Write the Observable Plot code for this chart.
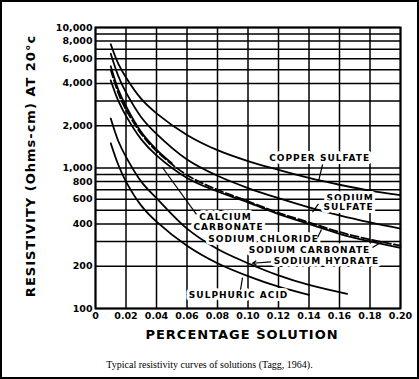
<!DOCTYPE html>
<html><head><meta charset="utf-8">
<script src="https://cdn.jsdelivr.net/npm/d3@7"></script>
<script src="https://cdn.jsdelivr.net/npm/@observablehq/plot@0.6"></script>
<style>
body{margin:0;background:#fff;}
#wrap{position:relative;width:419px;height:379px;overflow:hidden;background:#fff;}
#border{position:absolute;left:0;top:0;width:419px;height:379px;box-sizing:border-box;border:2px solid #000;pointer-events:none;}
#caption{position:absolute;left:0;top:359px;width:419px;text-align:center;font-family:"Liberation Serif",serif;font-size:10px;color:#000;}
.lbl text{letter-spacing:1px;}
.ttl text{letter-spacing:1px;}
</style></head><body>
<div id="wrap"><div id="chart"></div><div id="caption">Typical resistivity curves of solutions (Tagg, 1964).</div><div id="border"></div></div>
<script>
// ---- data (percentage solution -> resistivity, ohm-cm) ----
const pct = [0.01, 0.015, 0.02, 0.03, 0.04, 0.06, 0.08, 0.10, 0.12, 0.14, 0.16, 0.18, 0.20];
const copperSulfate   = [7600, 5500, 4400, 3100, 2450, 1720, 1340, 1120, 970, 850, 760, 690, 640];
const sodiumSulfate   = [6500, 4500, 3450, 2300, 1750, 1150, 880, 720, 610, 525, 460, 410, 370];
const sodiumChloride  = [5000, 3400, 2600, 1750, 1320, 890, 700, 580, 480, 410, 350, 310, 280];
const sodiumCarbonate = [4200, 3000, 2350, 1600, 1230, 850, 680, 570, 470, 400, 340, 300, 270];
const calciumPct = [0.01, 0.015, 0.02, 0.03, 0.04, 0.05];
const calciumCarbonate = [5300, 3600, 2750, 1800, 1350, 1080];
const hydratePct = [0.01, 0.015, 0.02, 0.03, 0.04, 0.06, 0.08, 0.10, 0.12, 0.14, 0.165];
const sodiumHydrate = [2250, 1550, 1200, 800, 610, 370, 265, 210, 172, 147, 127];
const acidPct = [0.01, 0.015, 0.02, 0.03, 0.04, 0.06, 0.08, 0.10, 0.12, 0.14];
const sulphuricAcid = [1500, 1050, 800, 540, 415, 280, 210, 170, 143, 125];

const xTicks = [0, 0.02, 0.04, 0.06, 0.08, 0.10, 0.12, 0.14, 0.16, 0.18, 0.20];
const yTickLabels = [100, 200, 400, 600, 800, 1000, 2000, 4000, 6000, 8000, 10000];
const yGrid = [100, 200, 300, 400, 500, 600, 700, 800, 900, 1000, 2000, 3000, 4000, 5000, 6000, 7000, 8000, 9000, 10000];

// curve labels (text, x, y) in data units
const labelText = ["COPPER SULFATE", "SODIUM", "SULFATE", "CALCIUM", "CARBONATE", "SODIUM CHLORIDE", "SODIUM CARBONATE", "SODIUM HYDRATE", "SULPHURIC ACID"];
const labelX = [0.147, 0.167, 0.166, 0.0852, 0.0872, 0.1102, 0.1403, 0.1515, 0.0938];
const labelY = [1170, 607, 524, 445, 378, 310, 259, 216, 124];
// leader lines
const leadX1 = [0.1489, 0.1462, 0.0662, 0.1456, 0.1816, 0.0951];
const leadY1 = [1059, 556, 467, 320, 272, 136];
const leadX2 = [0.1462, 0.1423, 0.0439, 0.1482, 0.1882, 0.0964];
const leadY2 = [801, 484, 1008, 365, 300, 166];
const arrowX1 = [0.1148], arrowY1 = [215], arrowX2 = [0.1030], arrowY2 = [210];

// ---- build tables ----
function series(name, xs, ys){ return xs.map((x,i)=>({name, x, y: ys[i]})); }
const solid = [
  ...series("Copper sulfate", pct, copperSulfate),
  ...series("Sodium sulfate", pct, sodiumSulfate),
  ...series("Sodium carbonate", pct, sodiumCarbonate),
  ...series("Calcium carbonate", calciumPct, calciumCarbonate),
  ...series("Sodium hydrate", hydratePct, sodiumHydrate),
  ...series("Sulphuric acid", acidPct, sulphuricAcid)
];
const dashed = series("Sodium chloride", pct, sodiumChloride);
const labels = labelText.map((t,i)=>({t, x: labelX[i], y: labelY[i]}));
const leads = leadX1.map((d,i)=>({x1: leadX1[i], y1: leadY1[i], x2: leadX2[i], y2: leadY2[i]}));
const arrows = arrowX1.map((d,i)=>({x1: arrowX1[i], y1: arrowY1[i], x2: arrowX2[i], y2: arrowY2[i]}));
const fmtY = d3.format(",");

const chart = Plot.plot({
  width: 419, height: 357,
  marginLeft: 95, marginRight: 19, marginTop: 27, marginBottom: 49,
  style: {fontFamily: "DejaVu Sans", fontWeight: "bold", color: "#000", background: "transparent"},
  x: {domain: [0, 0.20], axis: null},
  y: {type: "log", domain: [100, 10000], axis: null},
  marks: [
    Plot.ruleX(xTicks, {stroke: "#000", strokeWidth: 1.5}),
    Plot.ruleY(yGrid, {stroke: "#000", strokeWidth: 1.5}),
    Plot.frame({stroke: "#000", strokeWidth: 2}),
    Plot.text(yTickLabels, {y: d => d, text: d => fmtY(d), frameAnchor: "left", textAnchor: "end", dx: -3, fontSize: 9.5, fontWeight: "bold", fill: "#000"}),
    Plot.text(xTicks, {x: d => d, text: d => d === 0 ? "0" : d.toFixed(2), frameAnchor: "bottom", lineAnchor: "top", dy: 4, fontSize: 9.5, fontWeight: "bold", fill: "#000"}),
    Plot.line(solid, {x: "x", y: "y", z: "name", stroke: "#000", strokeWidth: 1.8, curve: "catmull-rom"}),
    Plot.line(dashed, {x: "x", y: "y", stroke: "#000", strokeWidth: 1.8, strokeDasharray: "8,3", curve: "catmull-rom"}),
    Plot.text(labels, {x: "x", y: "y", text: "t", fontSize: 9, fontWeight: "bold", fill: "#000", stroke: "white", strokeWidth: 6, className: "lbl"}),
    Plot.link(leads, {x1: "x1", y1: "y1", x2: "x2", y2: "y2", stroke: "#000", strokeWidth: 1.2}),
    Plot.arrow(arrows, {x1: "x1", y1: "y1", x2: "x2", y2: "y2", stroke: "#000", strokeWidth: 1.2, headLength: 5}),
    Plot.text(["PERCENTAGE SOLUTION"], {frameAnchor: "bottom", dy: 30, dx: -6, fontSize: 13, fontWeight: "bold", className: "ttl"}),
    Plot.text(["RESISTIVITY (Ohms-cm) AT 20°c"], {frameAnchor: "left", textAnchor: "middle", dx: -65, dy: -2, rotate: -90, fontSize: 13, fontWeight: "bold", className: "ttl"})
  ]
});
document.getElementById("chart").appendChild(chart);
</script>
</body></html>
